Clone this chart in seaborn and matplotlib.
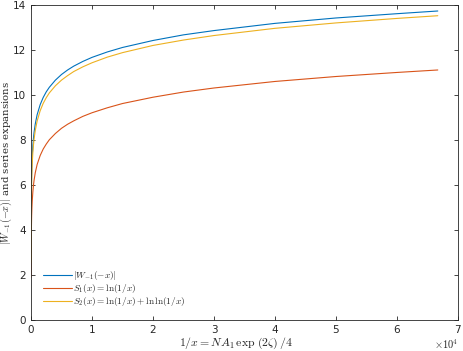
import numpy as np
import pandas as pd
import matplotlib
matplotlib.use("Agg")
import matplotlib.pyplot as plt
import seaborn as sns

# values (x = 1/x on the axis)
inv_x = [6.7, 10, 20, 30, 50, 100, 150, 200, 300, 400, 500, 700, 1000, 1500, 2000, 2500,
         3000, 4000, 5000, 6000, 7000, 8500, 10000, 12500, 15000, 20000, 25000, 30000,
         40000, 50000, 60000, 66700]
w_abs = [3.00, 3.58, 4.50, 5.01, 5.64, 6.47, 6.95, 7.28, 7.75, 8.08, 8.34, 8.72, 9.12, 9.57,
         9.89, 10.14, 10.34, 10.66, 10.91, 11.11, 11.28, 11.49, 11.67, 11.91, 12.11, 12.42,
         12.67, 12.86, 13.18, 13.42, 13.61, 13.73]
s1 = [1.90, 2.30, 3.00, 3.40, 3.91, 4.61, 5.01, 5.30, 5.70, 5.99, 6.21, 6.55, 6.91, 7.31,
      7.60, 7.82, 8.01, 8.29, 8.52, 8.70, 8.85, 9.05, 9.21, 9.43, 9.62, 9.90, 10.13, 10.31,
      10.60, 10.82, 11.00, 11.11]
s2 = [2.55, 3.14, 4.09, 4.63, 5.28, 6.13, 6.62, 6.97, 7.45, 7.78, 8.04, 8.43, 8.84, 9.30,
      9.63, 9.88, 10.09, 10.41, 10.66, 10.86, 11.04, 11.25, 11.43, 11.68, 11.88, 12.20,
      12.44, 12.64, 12.96, 13.20, 13.40, 13.52]

labels = [r"$|W_{-1}(-x)|$",
          r"$S_1(x) = \ln(1/x)$",
          r"$S_2(x) = \ln(1/x) + \ln\ln(1/x)$"]
colors = ["#0072BD", "#D95319", "#EDB120"]
xticks = [0, 10000, 20000, 30000, 40000, 50000, 60000, 70000]
xtick_labels = ["0", "1", "2", "3", "4", "5", "6", "7"]
yticks = [0, 2, 4, 6, 8, 10, 12, 14]

sns.set_style("ticks")
plt.rcParams["font.family"] = ["DejaVu Sans"]
plt.rcParams["mathtext.fontset"] = "cm"

fig = plt.figure(figsize=(4.63, 3.51), dpi=100)
ax = fig.add_axes([0.067, 0.088, 0.922, 0.898])

for ys, lab, col in zip([w_abs, s1, s2], labels, colors):
    sns.lineplot(x=inv_x, y=ys, color=col, label=lab, lw=0.8, sort=False, ax=ax)

ax.set_xlim(0, 70000)
ax.set_ylim(0, 14)
ax.set_xticks(xticks)
ax.set_xticklabels(xtick_labels)
ax.set_yticks(yticks)
ax.tick_params(direction="in", length=3, width=0.6, labelsize=7.5, colors="#262626",
               top=True, right=True)
for s in ax.spines.values():
    s.set_linewidth(0.6)
    s.set_color("#262626")

ax.set_xlabel(r"$1/x = NA_1\,\exp\,(2\zeta)\,/4$", fontsize=8.5, color="#262626")
ax.xaxis.set_label_coords(0.48, -0.074, transform=ax.transAxes)
ax.xaxis.label.set_va("center")
ax.set_ylabel(r"$|W_{-1}(-x)|$ and series expansions", fontsize=7.3,
              family="serif", color="#262626")
ax.yaxis.set_label_coords(-0.058, 0.5, transform=ax.transAxes)
ax.yaxis.label.set_va("center")
ax.text(1.0, -0.075, r"$\times10^4$", transform=ax.transAxes, ha="right", va="center",
        fontsize=7.5, color="#262626")

leg = ax.legend(loc="lower left", frameon=False, fontsize=6.7, handlelength=3.1,
                handletextpad=0.15, labelspacing=0.0, borderaxespad=0.9)

fig.savefig("out.png", dpi=100)
